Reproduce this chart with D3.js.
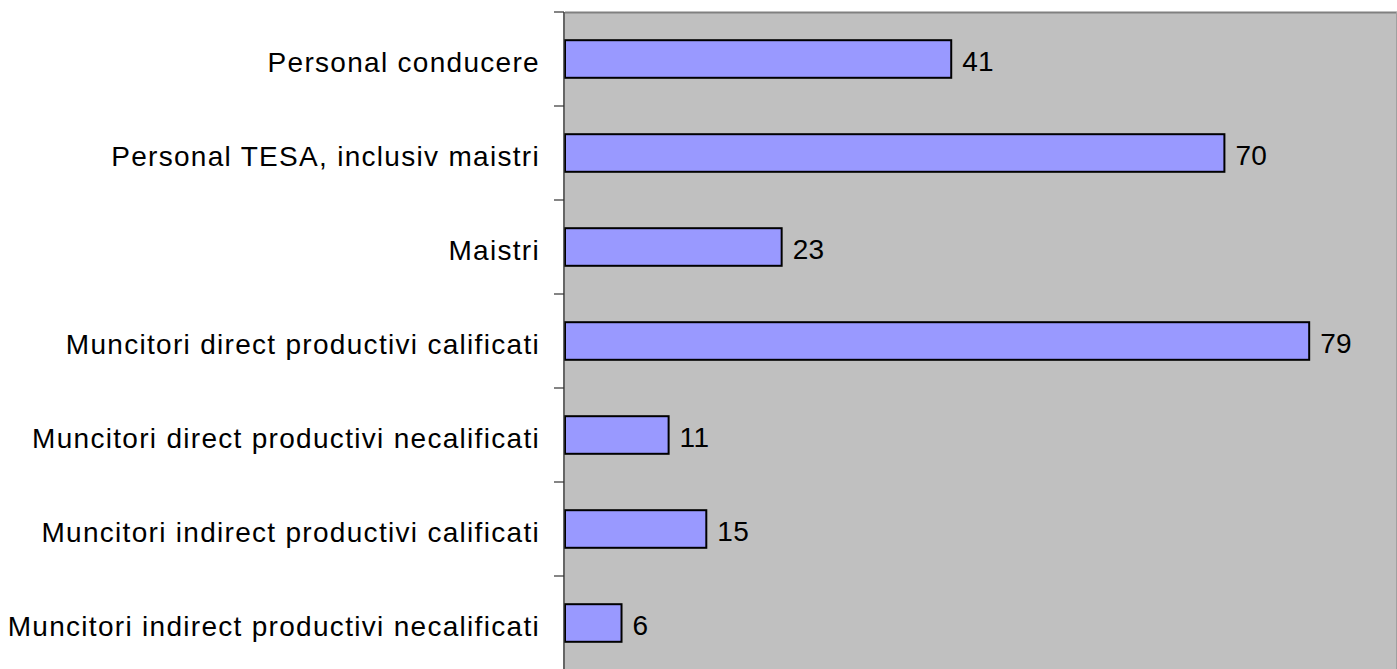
<!DOCTYPE html>
<html><head><meta charset="utf-8">
<script src="https://cdn.jsdelivr.net/npm/d3@7"></script>
<style>html,body{margin:0;padding:0;background:#fff;overflow:hidden}</style>
</head><body>
<svg id="c" width="1397" height="669"></svg>
<script>
const categories = [
  "Personal conducere",
  "Personal TESA, inclusiv maistri",
  "Maistri",
  "Muncitori direct productivi calificati",
  "Muncitori direct productivi necalificati",
  "Muncitori indirect productivi calificati",
  "Muncitori indirect productivi necalificati"
];
const values = [41, 70, 23, 79, 11, 15, 6];
const xMax = 90;

const svg = d3.select("#c");
const pLeft = 565, pTop = 12, pBottom = 670;
const x = d3.scaleLinear().domain([0, xMax]).range([pLeft, pLeft + 9.42 * xMax]);
const y = d3.scaleBand().domain(categories).range([pTop, pBottom]).paddingInner(0.6).paddingOuter(0.3);

// plot area
svg.append("rect").attr("x", pLeft).attr("y", pTop).attr("width", 1397 - pLeft).attr("height", 669 - pTop)
  .attr("fill", "#C0C0C0");
svg.append("line").attr("x1", pLeft).attr("x2", 1397).attr("y1", pTop + 0.5).attr("y2", pTop + 0.5)
  .attr("stroke", "#808080").attr("stroke-width", 2);
svg.append("line").attr("x1", 1396.5).attr("x2", 1396.5).attr("y1", pTop).attr("y2", 669)
  .attr("stroke", "#A0A0A0").attr("stroke-width", 1);

// bars
svg.selectAll("rect.bar").data(values).join("rect").attr("class", "bar")
  .attr("x", x(0)).attr("y", (d, i) => y(categories[i]))
  .attr("width", d => x(d) - x(0)).attr("height", y.bandwidth())
  .attr("fill", "#9999FF").attr("stroke", "#000").attr("stroke-width", 2);

// value labels
svg.selectAll("text.val").data(values).join("text").attr("class", "val")
  .attr("x", d => x(d) + 11).attr("y", (d, i) => y(categories[i]) + y.bandwidth() / 2)
  .attr("dy", "0.42em")
  .attr("font-family", "Liberation Sans, Arial, sans-serif").attr("font-size", 28)
  .attr("letter-spacing", "0.3px")
  .attr("fill", "#000").text(d => d);

// axis
const step = y.step();
const axisG = svg.append("g");
axisG.append("line").attr("x1", pLeft - 1).attr("x2", pLeft - 1).attr("y1", pTop).attr("y2", 669)
  .attr("stroke", "#333").attr("stroke-width", 1.5);
const bounds = d3.range(categories.length + 1).map(i => pTop + i * step);
axisG.selectAll("line.tick").data(bounds).join("line").attr("class", "tick")
  .attr("x1", pLeft - 11).attr("x2", pLeft - 1).attr("y1", d => d).attr("y2", d => d)
  .attr("stroke", "#333").attr("stroke-width", 1.2);
axisG.selectAll("text.lab").data(categories).join("text").attr("class", "lab")
  .attr("x", pLeft - 25).attr("y", d => y(d) + y.bandwidth() / 2).attr("dy", "0.45em")
  .attr("text-anchor", "end")
  .attr("font-family", "Liberation Sans, Arial, sans-serif").attr("font-size", 28)
  .attr("letter-spacing", "1.3px")
  .attr("fill", "#000").text(d => d);
</script>
</body></html>
